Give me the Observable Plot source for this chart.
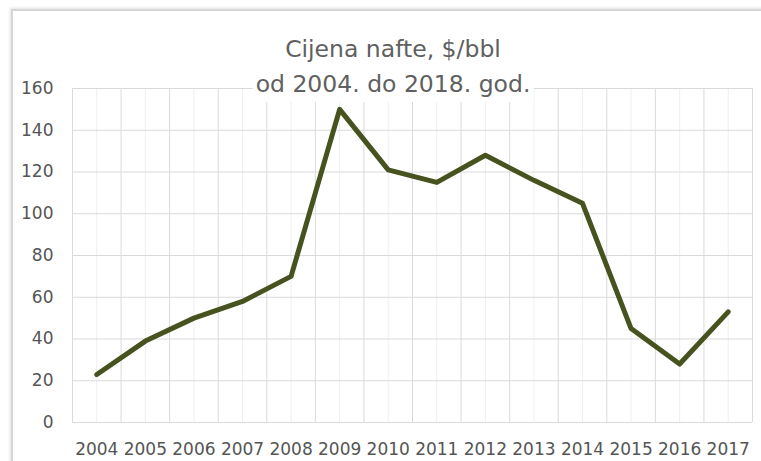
<!DOCTYPE html>
<html><head><meta charset="utf-8">
<script src="https://cdn.jsdelivr.net/npm/d3@7"></script>
<script src="https://cdn.jsdelivr.net/npm/@observablehq/plot@0.6"></script>
<style>
html,body{margin:0;padding:0;overflow:hidden;background:#fff;}
#wrap{position:relative;width:761px;height:461px;overflow:hidden;background:#fff;}
#frame{position:absolute;left:11px;top:9px;width:800px;height:500px;border-top:2px solid #d6d6d6;border-left:2px solid #d6d6d6;box-shadow:-1px -1px 3px rgba(0,0,0,0.12);}
#chart{position:absolute;left:0;top:0;}
#title{position:absolute;left:393px;top:32px;transform:translateX(-50%);background:#fff;font-family:"DejaVu Sans";font-size:23.5px;line-height:35px;color:#606060;text-align:center;white-space:nowrap;padding:0 3px;}
</style></head>
<body><div id="wrap"><div id="frame"></div><div id="chart"></div><div id="title">Cijena nafte, $/bbl<br>od 2004. do 2018. god.</div></div>
<script>
const years = [2004, 2005, 2006, 2007, 2008, 2009, 2010, 2011, 2012, 2013, 2014, 2015, 2016, 2017];
const prices = [23, 39, 50, 58, 70, 150, 121, 115, 128, 116, 105, 45, 28, 53];
const yTicks = [0, 20, 40, 60, 80, 100, 120, 140, 160];

const data = years.map((year, i) => ({year, price: prices[i]}));
const boundaries = [...years.map(y => y - 0.5), years[years.length - 1] + 0.5];

const chart = Plot.plot({
  width: 761,
  height: 461,
  marginLeft: 72,
  marginRight: 9,
  marginTop: 88,
  marginBottom: 39,
  style: {background: "transparent", fontFamily: "DejaVu Sans"},
  x: {type: "linear", domain: [2003.5, 2017.5]},
  y: {domain: [0, 160]},
  marks: [
    Plot.ruleX(years, {stroke: "#efefef", strokeWidth: 1}),
    Plot.ruleX(boundaries, {stroke: "#dadada", strokeWidth: 1}),
    Plot.ruleY(yTicks, {stroke: "#dadada", strokeWidth: 1}),
    Plot.axisX(years, {tickSize: 0, tickPadding: 20, fontSize: 17, fill: "#555", tickFormat: d => String(d), label: null}),
    Plot.axisY(yTicks, {tickSize: 0, tickPadding: 19, fontSize: 17, fill: "#555", label: null}),
    Plot.line(data, {x: "year", y: "price", stroke: "#46531f", strokeWidth: 5, strokeLinejoin: "round", strokeLinecap: "round"})
  ]
});
document.getElementById("chart").appendChild(chart);
</script>
</body></html>
